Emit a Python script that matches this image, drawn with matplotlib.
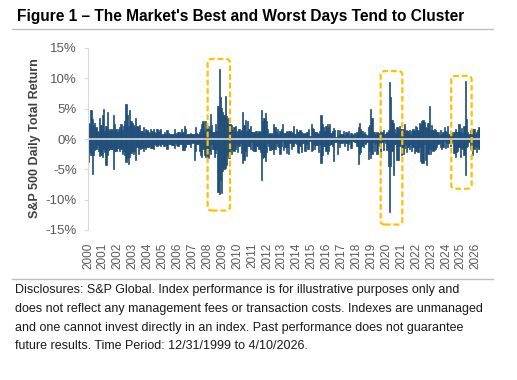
import matplotlib
matplotlib.use("Agg")
import matplotlib.pyplot as plt
import numpy as np
from matplotlib.patches import FancyBboxPatch
from matplotlib.lines import Line2D

plt.rcParams['font.family'] = ['Liberation Sans', 'DejaVu Sans']

# best and worst daily total return (%) seen in each month, Jan 2000 .. Apr 2026
best = [
    2.7, 2.5, 4.8, 3.3, 2.3, 2.7, 1.9, 1.4, 1.2, 3.5, 2.3, 3.9,   # 2000
    5.0, 1.3, 2.2, 4.4, 1.6, 1.4, 1.6, 1.5, 3.9, 2.4, 1.7, 1.2,   # 2001
    1.6, 1.9, 2.4, 1.5, 2.2, 2.9, 5.7, 4.0, 2.1, 4.7, 3.0, 2.7,   # 2002
    2.3, 2.0, 3.5, 2.2, 1.9, 2.3, 1.4, 1.4, 2.0, 1.2, 1.6, 1.5,   # 2003
    1.2, 1.0, 1.6, 1.4, 1.7, 1.1, 1.0, 1.7, 1.1, 1.5, 1.6, 0.9,   # 2004
    0.9, 1.1, 0.9, 1.5, 1.0, 0.8, 0.9, 0.8, 0.8, 1.6, 1.0, 0.8,   # 2005
    1.2, 1.1, 1.0, 1.7, 1.1, 2.2, 1.6, 0.9, 0.9, 0.9, 1.0, 0.8,   # 2006
    0.9, 0.9, 1.9, 1.0, 0.9, 1.2, 1.6, 2.5, 2.9, 1.4, 2.9, 1.6,   # 2007
    2.1, 1.7, 4.2, 2.3, 1.1, 1.1, 2.5, 1.4, 5.4, 11.6, 6.9, 5.1,  # 2008
    4.4, 4.0, 7.1, 3.8, 3.4, 2.4, 2.4, 2.3, 1.5, 2.0, 2.2, 1.2,   # 2009
    1.3, 1.7, 1.4, 1.5, 4.4, 2.3, 3.1, 1.3, 3.0, 1.6, 2.1, 1.1,   # 2010
    1.1, 1.1, 1.4, 1.4, 1.0, 1.4, 1.1, 4.7, 2.9, 3.4, 4.3, 2.9,   # 2011
    1.6, 0.9, 1.0, 0.8, 1.0, 2.5, 1.9, 1.1, 1.6, 0.9, 1.3, 1.7,   # 2012
    2.5, 1.0, 1.0, 1.4, 1.1, 1.3, 1.4, 1.0, 1.2, 2.2, 0.8, 1.7,   # 2013
    1.2, 1.1, 1.5, 1.2, 1.0, 0.8, 1.0, 1.1, 1.1, 1.7, 0.5, 2.4,   # 2014
    1.8, 1.6, 1.2, 1.1, 1.0, 0.9, 1.3, 3.9, 2.5, 1.9, 1.4, 2.1,   # 2015
    2.5, 2.0, 2.4, 1.0, 1.3, 1.8, 1.5, 0.4, 1.5, 0.6, 1.5, 0.9,   # 2016
    0.8, 1.4, 0.7, 1.1, 1.0, 1.4, 0.5, 1.0, 0.6, 0.8, 1.0, 0.9,   # 2017
    1.2, 1.9, 2.7, 1.7, 1.3, 0.8, 1.1, 0.8, 0.6, 1.9, 2.3, 5.0,   # 2018
    3.4, 1.1, 1.1, 0.9, 1.1, 1.0, 0.8, 1.4, 1.1, 1.5, 0.8, 0.9,   # 2019
    1.1, 1.5, 9.4, 7.0, 3.2, 2.6, 1.6, 1.0, 2.0, 1.6, 2.2, 1.6,   # 2020
    1.6, 1.6, 2.4, 1.4, 1.5, 1.4, 1.5, 0.9, 1.3, 1.7, 1.4, 2.1,   # 2021
    1.9, 1.5, 2.6, 2.5, 3.0, 3.1, 2.8, 1.9, 1.8, 2.6, 5.5, 1.5,   # 2022
    2.3, 1.5, 1.7, 1.5, 1.2, 1.2, 0.6, 1.5, 0.8, 1.2, 1.9, 1.4,   # 2023
    1.2, 2.1, 0.9, 1.2, 1.2, 0.9, 1.1, 1.7, 1.1, 1.2, 2.5, 1.1,   # 2024
    1.8, 1.0, 2.1, 9.5, 3.3, 1.1, 0.8, 1.5, 0.6, 1.6, 1.6, 0.9,   # 2025
    1.2, 1.5, 2.0, 3.0,                                           # 2026
]
worst = [
    -3.8, -2.1, -2.6, -5.8, -2.6, -1.8, -1.7, -1.0, -1.9, -2.8, -2.6, -2.9,   # 2000
    -1.6, -2.1, -4.3, -2.7, -1.8, -1.7, -1.6, -1.6, -4.9, -2.0, -1.9, -1.5,   # 2001
    -1.5, -1.9, -1.6, -2.4, -2.0, -2.7, -3.8, -3.2, -4.2, -3.0, -2.3, -2.0,   # 2002
    -2.4, -1.9, -3.5, -1.3, -2.5, -1.5, -1.6, -1.5, -1.9, -1.4, -1.7, -1.3,   # 2003
    -1.4, -1.1, -1.5, -1.5, -1.7, -0.9, -1.0, -1.1, -0.9, -1.0, -1.1, -0.9,   # 2004
    -1.1, -1.1, -1.0, -1.7, -0.9, -0.9, -0.9, -1.0, -1.0, -1.5, -0.6, -1.0,   # 2005
    -1.2, -0.9, -0.9, -0.8, -1.8, -1.8, -1.4, -0.9, -0.8, -0.8, -1.4, -0.7,   # 2006
    -0.6, -3.5, -2.0, -0.9, -0.9, -1.9, -2.6, -3.0, -1.7, -2.6, -2.9, -2.6,   # 2007
    -3.2, -2.0, -2.5, -0.9, -1.7, -2.9, -2.3, -1.6, -8.8, -9.0, -6.7, -8.9,   # 2008
    -5.3, -4.9, -4.7, -4.3, -2.6, -3.1, -1.7, -2.4, -1.8, -2.0, -1.7, -1.0,   # 2009
    -2.2, -1.2, -0.6, -2.3, -3.9, -3.4, -1.9, -2.8, -1.1, -1.2, -1.6, -0.5,   # 2010
    -1.8, -2.0, -1.9, -1.1, -1.2, -1.7, -2.1, -6.7, -3.2, -2.9, -3.7, -2.1,   # 2011
    -0.6, -1.1, -1.8, -1.7, -1.7, -2.5, -1.7, -0.6, -1.1, -1.4, -2.4, -1.1,   # 2012
    -0.3, -1.8, -1.4, -2.3, -1.4, -2.5, -0.6, -1.6, -1.1, -1.2, -0.7, -0.8,   # 2013
    -2.1, -2.3, -1.2, -2.1, -0.7, -0.7, -2.0, -0.9, -1.6, -1.6, -0.3, -1.9,   # 2014
    -1.8, -0.9, -1.7, -1.0, -1.0, -2.1, -0.9, -3.9, -2.6, -1.2, -1.1, -1.9,   # 2015
    -2.5, -1.9, -1.0, -0.9, -1.2, -3.6, -0.5, -0.5, -2.5, -0.7, -1.3, -0.7,   # 2016
    -0.6, -0.5, -1.2, -0.7, -1.8, -0.9, -0.5, -1.5, -0.3, -0.4, -0.5, -0.5,   # 2017
    -1.1, -4.1, -2.5, -2.2, -1.2, -1.4, -0.6, -0.8, -0.5, -3.3, -1.9, -3.2,   # 2018
    -2.5, -0.5, -1.9, -0.9, -2.4, -1.0, -1.1, -3.0, -0.5, -1.8, -0.4, -0.6,   # 2019
    -1.8, -4.4, -12.0, -4.4, -2.0, -5.9, -0.9, -0.8, -3.5, -3.5, -1.2, -1.0,  # 2020
    -2.6, -2.4, -1.5, -0.9, -2.1, -1.3, -1.6, -0.8, -2.0, -1.3, -2.3, -1.9,   # 2021
    -1.9, -2.1, -1.3, -3.6, -4.0, -3.9, -0.9, -3.4, -4.3, -2.4, -1.7, -2.5,   # 2022
    -1.6, -2.0, -1.8, -1.6, -1.4, -0.8, -0.7, -1.4, -1.6, -1.4, -0.3, -1.5,   # 2023
    -0.6, -1.4, -0.7, -1.2, -0.7, -0.3, -2.3, -3.0, -2.1, -1.9, -1.3, -2.9,   # 2024
    -1.5, -1.7, -2.7, -6.0, -1.4, -1.1, -0.5, -1.6, -0.5, -2.7, -1.6, -1.2,   # 2025
    -2.1, -1.3, -1.7, -1.2,                                                   # 2026
]
years = list(range(2000, 2027))
yticks = [15, 10, 5, 0, -5, -10, -15]

# dashed call-outs round the clusters: (from year, to year, low %, high %)
box_from = [2008.02, 2019.62, 2024.35]
box_to = [2009.52, 2021.07, 2025.72]
box_low = [-11.8, -14.1, -8.2]
box_high = [13.2, 11.2, 10.4]

title = "Figure 1 \u2013 The Market's Best and Worst Days Tend to Cluster"
notes = [
    "Disclosures: S&P Global. Index performance is for illustrative purposes only and",
    "does not reflect any management fees or transaction costs. Indexes are unmanaged",
    "and one cannot invest directly in an index. Past performance does not guarantee",
    "future results. Time Period: 12/31/1999 to 4/10/2026.",
]

blue = '#1f4e79'
t = 2000 + (np.arange(len(best)) + 0.5) / 12

fig = plt.figure(figsize=(5.17, 3.80), dpi=100)
ax = fig.add_axes([88 / 517, 150 / 380, 392 / 517, 182 / 380])

# thin edge in the bar colour so neighbouring months merge into one solid band
ax.bar(t, best, width=1 / 12, color=blue, ec=blue, linewidth=0.5, zorder=2)
ax.bar(t, worst, width=1 / 12, color=blue, ec=blue, linewidth=0.5, zorder=2)
ax.axhline(0, color='#dcdcdc', lw=1.2, zorder=3)

ax.set_xlim(2000, 2026.28)
ax.set_ylim(-15, 15)
ax.set_yticks(yticks)
ax.set_yticklabels([f'{v}%' for v in yticks])
ax.set_xticks(years)
ax.set_xticklabels([str(y) for y in years], rotation=90, va='top')
ax.tick_params(axis='y', length=3, color='#d9d9d9', labelcolor='#595959', labelsize=9.5, pad=5)
ax.tick_params(axis='x', length=0, labelcolor='#595959', labelsize=8.5, pad=9)
for s in ['top', 'right', 'bottom']:
    ax.spines[s].set_visible(False)
ax.spines['left'].set_color('#d9d9d9')

# keep round corners round although x and y scales differ
bb = ax.get_position()
px_x = bb.width * 517 / (2026.28 - 2000)
px_y = bb.height * 380 / 30
asp = px_x / px_y
for x0, x1, y0, y1 in zip(box_from, box_to, box_low, box_high):
    p = FancyBboxPatch((x0, y0), x1 - x0, y1 - y0,
                       boxstyle="round,pad=0,rounding_size=0.28",
                       mutation_aspect=asp, fill=False, ec='#ffc000', lw=1.6,
                       ls=(0, (2.6, 1.3)), zorder=5, clip_on=False)
    ax.add_patch(p)

fig.text(35 / 517, 1 - 138.5 / 380, 'S&P 500 Daily Total Return', rotation=90,
         ha='center', va='center', fontsize=9, fontweight='bold', color='#404040')

fig.text(17 / 517, 1 - 17 / 380, title, ha='left', va='center',
         fontsize=11.2, fontweight='bold', color='black')
fig.add_artist(Line2D([12 / 517, 493 / 517], [1 - 29.3 / 380] * 2, color='#c0c0c0', lw=1))
fig.add_artist(Line2D([12 / 517, 493 / 517], [1 - 279.3 / 380] * 2, color='#c0c0c0', lw=1))

for i, line in enumerate(notes):
    fig.text(15 / 517, 1 - (290 + 18.8 * i) / 380, line, ha='left', va='center',
             fontsize=9, color='#1a1a1a')

fig.savefig('out.png', dpi=100)
